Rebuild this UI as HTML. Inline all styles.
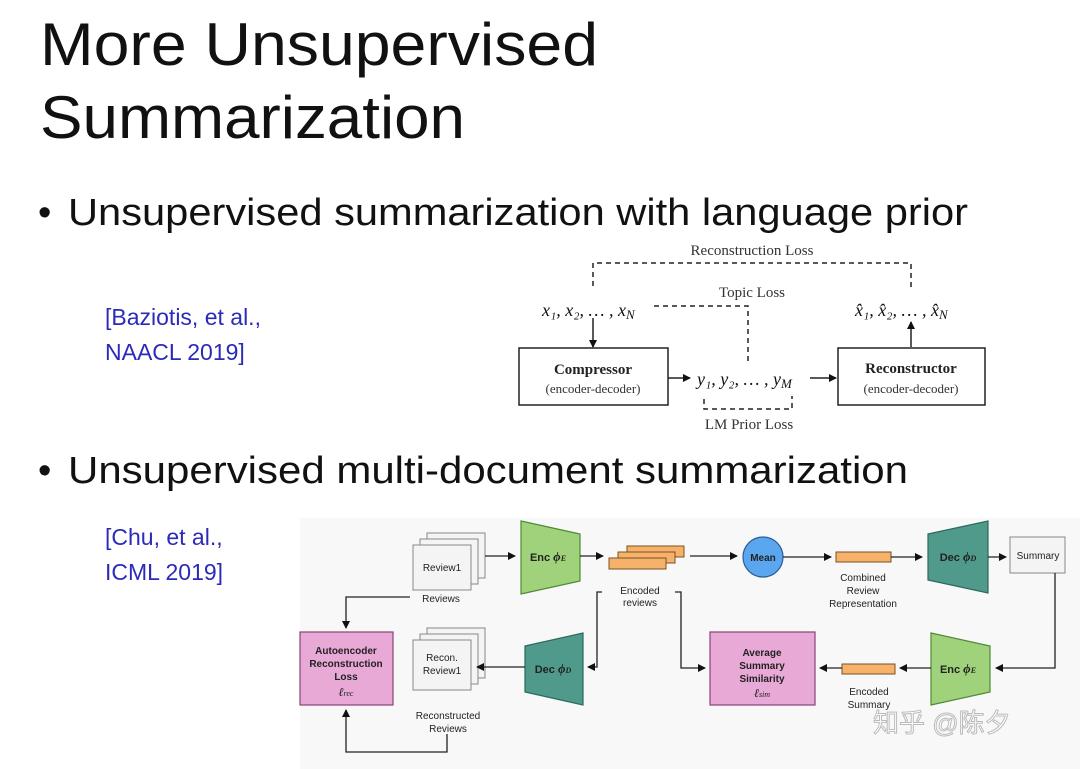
<!DOCTYPE html>
<html><head><meta charset="utf-8"><style>body{margin:0;background:#fff}svg{display:block}</style></head><body>
<svg width="1080" height="769" viewBox="0 0 1080 769" xmlns="http://www.w3.org/2000/svg" font-family="Liberation Sans, sans-serif">
<defs>
<marker id="a" markerWidth="8" markerHeight="8" refX="7" refY="4" orient="auto" markerUnits="userSpaceOnUse"><path d="M0,0 L8,4 L0,8 Z" fill="#111"/></marker>
</defs>
<text x="40" y="65" font-size="60" textLength="558" lengthAdjust="spacingAndGlyphs" fill="#111">More Unsupervised</text>
<text x="40" y="138" font-size="60" textLength="425" lengthAdjust="spacingAndGlyphs" fill="#111">Summarization</text>
<text x="38" y="225" font-size="38" fill="#111">•</text>
<text x="68" y="225" font-size="38" textLength="900" lengthAdjust="spacingAndGlyphs" fill="#111">Unsupervised summarization with language prior</text>
<text x="38" y="483" font-size="38" fill="#111">•</text>
<text x="68" y="483" font-size="38" textLength="840" lengthAdjust="spacingAndGlyphs" fill="#111">Unsupervised multi-document summarization</text>
<g fill="#2b2bb8" font-size="23">
<text x="105" y="325">[Baziotis, et al.,</text><text x="105" y="360">NAACL 2019]</text>
<text x="105" y="545">[Chu, et al.,</text><text x="105" y="580">ICML 2019]</text>
</g>
<!-- top diagram -->
<g font-family="Liberation Serif, serif" fill="#333">
<text x="752" y="255" font-size="15" text-anchor="middle">Reconstruction Loss</text>
<text x="752" y="297" font-size="15" text-anchor="middle">Topic Loss</text>
<text x="749" y="429" font-size="15" text-anchor="middle">LM Prior Loss</text>
<text x="542" y="316" font-size="18" font-style="italic" fill="#111">x₁, x₂, … , x<tspan font-size="13" dy="3">N</tspan></text>
<text x="855" y="316" font-size="18" font-style="italic" fill="#111">x̂₁, x̂₂, … , x̂<tspan font-size="13" dy="3">N</tspan></text>
<text x="697" y="385" font-size="18" font-style="italic" fill="#111">y₁, y₂, … , y<tspan font-size="13" dy="3">M</tspan></text>
<text x="593" y="374" font-size="15" font-weight="bold" text-anchor="middle" fill="#222">Compressor</text>
<text x="593" y="393" font-size="13" text-anchor="middle">(encoder-decoder)</text>
<text x="911" y="373" font-size="15" font-weight="bold" text-anchor="middle" fill="#222">Reconstructor</text>
<text x="911" y="393" font-size="13" text-anchor="middle">(encoder-decoder)</text>
</g>
<g fill="none" stroke="#222" stroke-width="1.5">
<rect x="519" y="348" width="149" height="57"/>
<rect x="838" y="348" width="147" height="57"/>
<g stroke-dasharray="5,4">
<path d="M593,286 V263 H911 V290"/>
<path d="M654,306 H748 V362"/>
<path d="M704,399 V409 H792 V396"/>
</g>
<path d="M593,318 V347" marker-end="url(#a)"/>
<path d="M668,378 H690" marker-end="url(#a)"/>
<path d="M810,378 H836" marker-end="url(#a)"/>
<path d="M911,347 V322" marker-end="url(#a)"/>
</g>
<!-- bottom diagram -->
<rect x="300" y="518" width="780" height="251" fill="#f8f8f8"/>
<g stroke="#888" stroke-width="1" fill="#f4f4f4">
<rect x="427" y="533" width="58" height="45"/><rect x="420" y="539" width="58" height="45"/><rect x="413" y="545" width="58" height="45"/>
<rect x="427" y="628" width="58" height="50"/><rect x="420" y="634" width="58" height="50"/><rect x="413" y="640" width="58" height="50"/>
<rect x="1010" y="537" width="55" height="36"/>
</g>
<g fill="#9fd27a" stroke="#4f8a35" stroke-width="1.2">
<path d="M521,521 L580,534 L580,581 L521,594 Z"/>
<path d="M931,633 L990,646 L990,692 L931,705 Z"/>
</g>
<g fill="#4f9a8a" stroke="#2d6a5d" stroke-width="1.2">
<path d="M928,534 L988,521 L988,593 L928,580 Z"/>
<path d="M525,646 L583,633 L583,705 L525,692 Z"/>
</g>
<g fill="#f6b26b" stroke="#7a5020" stroke-width="1">
<rect x="627" y="546" width="57" height="11"/><rect x="618" y="552" width="57" height="11"/><rect x="609" y="558" width="57" height="11"/>
<rect x="836" y="552" width="55" height="10"/>
<rect x="842" y="664" width="53" height="10"/>
</g>
<circle cx="763" cy="557" r="20" fill="#5aa7f0" stroke="#2a5c99" stroke-width="1.2"/>
<g fill="#e8a9d6" stroke="#884477" stroke-width="1.2">
<rect x="300" y="632" width="93" height="73"/>
<rect x="710" y="632" width="105" height="73"/>
</g>
<g fill="none" stroke="#222" stroke-width="1.3">
<path d="M485,556 H515" marker-end="url(#a)"/>
<path d="M580,556 H603" marker-end="url(#a)"/>
<path d="M690,556 H737" marker-end="url(#a)"/>
<path d="M783,557 H831" marker-end="url(#a)"/>
<path d="M891,557 H922" marker-end="url(#a)"/>
<path d="M988,557 H1006" marker-end="url(#a)"/>
<path d="M1055,573 V668 H996" marker-end="url(#a)"/>
<path d="M931,668 H900" marker-end="url(#a)"/>
<path d="M842,668 H820" marker-end="url(#a)"/>
<path d="M410,597 H346 V628" marker-end="url(#a)"/>
<path d="M602,592 H597 V667 H588" marker-end="url(#a)"/>
<path d="M525,667 H477" marker-end="url(#a)"/>
<path d="M675,592 H681 V668 H705" marker-end="url(#a)"/>
<path d="M447,734 V752 H346 V710" marker-end="url(#a)"/>
</g>
<g font-size="10" fill="#222" text-anchor="middle">
<text x="442" y="571">Review1</text>
<text x="442" y="661">Recon.</text><text x="442" y="674">Review1</text>
<text x="441" y="602">Reviews</text>
<text x="640" y="594">Encoded</text><text x="640" y="606">reviews</text>
<text x="863" y="581">Combined</text><text x="863" y="594">Review</text><text x="863" y="607">Representation</text>
<text x="1038" y="559">Summary</text>
<text x="448" y="719">Reconstructed</text><text x="448" y="732">Reviews</text>
<text x="869" y="695">Encoded</text><text x="869" y="708">Summary</text>
<g font-weight="bold">
<text x="763" y="561">Mean</text>
<text x="346" y="654">Autoencoder</text><text x="346" y="667">Reconstruction</text><text x="346" y="680">Loss</text>
<text x="762" y="656">Average</text><text x="762" y="669">Summary</text><text x="762" y="682">Similarity</text>
<text x="548" y="561" font-size="11">Enc <tspan font-family="Liberation Serif, serif" font-style="italic" font-size="13">ϕ<tspan font-size="8">E</tspan></tspan></text>
<text x="958" y="561" font-size="11">Dec <tspan font-family="Liberation Serif, serif" font-style="italic" font-size="13">ϕ<tspan font-size="8">D</tspan></tspan></text>
<text x="958" y="673" font-size="11">Enc <tspan font-family="Liberation Serif, serif" font-style="italic" font-size="13">ϕ<tspan font-size="8">E</tspan></tspan></text>
<text x="553" y="673" font-size="11">Dec <tspan font-family="Liberation Serif, serif" font-style="italic" font-size="13">ϕ<tspan font-size="8">D</tspan></tspan></text>
</g>
<text x="346" y="696" font-family="Liberation Serif, serif" font-style="italic" font-size="12">ℓ<tspan font-size="8">rec</tspan></text>
<text x="762" y="697" font-family="Liberation Serif, serif" font-style="italic" font-size="12">ℓ<tspan font-size="8">sim</tspan></text>
</g>
<text x="873" y="732" font-size="26" fill="#fff" stroke="#bbb" stroke-width="1" font-family="Liberation Sans, Noto Sans CJK SC, sans-serif">知乎 @陈夕</text>
</svg>
</body></html>
